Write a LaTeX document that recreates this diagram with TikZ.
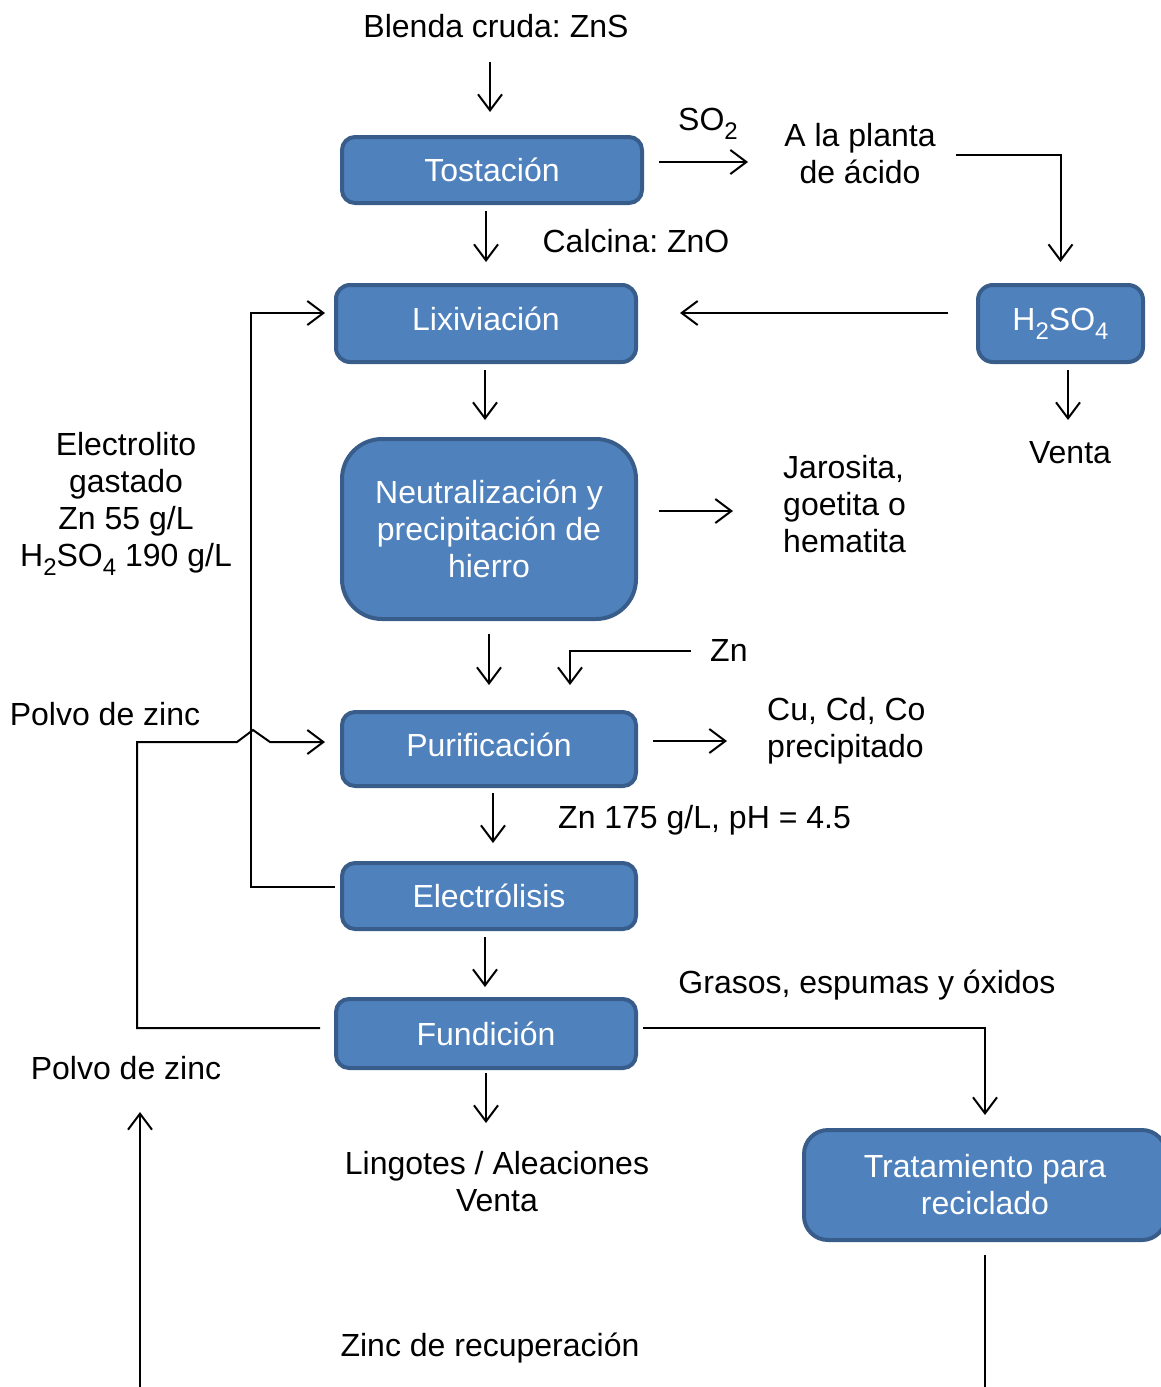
\documentclass[tikz,border=0pt]{standalone}
\usepackage{fontspec}
\setmainfont{Liberation Sans}
\usetikzlibrary{arrows.meta}
\definecolor{boxfill}{HTML}{4F81BD}
\definecolor{boxline}{HTML}{385D8A}
\newcommand{\sbs}[1]{\raisebox{-9pt}{\fontsize{24}{24}\selectfont #1}}
\frenchspacing
\begin{document}
\begin{tikzpicture}[x=1pt,y=-1pt, font=\fontsize{32}{37}\selectfont\frenchspacing,
 pbox/.style={draw=boxline, fill=boxfill, line width=4pt, text=white, align=center, inner sep=0pt, outer sep=0pt, rounded corners=13pt},
 lbl/.style={inner sep=0pt, align=center},
 arr/.style={line width=2pt, -{Straight Barb[length=16pt,width=24pt]}},
 conn/.style={line width=2pt}]
\useasboundingbox (0,0) rectangle (1161,1387);
\clip (0,0) rectangle (1161,1387);

% process boxes
\node[pbox, minimum width=300pt, minimum height=66pt] (tost) at (492,170) {Tostación};
\node[pbox, minimum width=300pt, minimum height=77pt, rounded corners=14pt] (lix) at (486,323.5) {\raisebox{10pt}{Lixiviación}};
\node[pbox, minimum width=165pt, minimum height=77pt, rounded corners=15pt] (hs) at (1060.5,323.5) {H\sbs{2}SO\sbs{4}};
\node[pbox, minimum width=294pt, minimum height=180pt, rounded corners=40pt] (neu) at (489,529) {Neutralización y\\precipitación de\\hierro};
\node[pbox, minimum width=294pt, minimum height=74pt] (pur) at (489,749) {\raisebox{8pt}{Purificación}};
\node[pbox, minimum width=294pt, minimum height=66pt] (ele) at (489,896) {Electrólisis};
\node[pbox, minimum width=300pt, minimum height=69pt] (fun) at (486,1033.5) {Fundición};
\node[pbox, minimum width=362pt, minimum height=110pt, rounded corners=24pt] (tra) at (985,1185) {Tratamiento para\\reciclado};

% labels
\node[lbl, anchor=base] (blenda) at (496,37) {Blenda cruda: ZnS};
\node[lbl, anchor=base] (so2) at (708,130) {SO\sbs{2}};
\node[lbl] (acid) at (860,153.4) {A la planta\\de ácido};
\node[lbl, anchor=base] (calc) at (636,252) {Calcina: ZnO};
\node[lbl, anchor=base] (venta1) at (1070,463) {Venta};
\node[lbl] (elec) at (126,503.5) {Electrolito\\gastado\\Zn 55 g/L\\H\sbs{2}SO\sbs{4} 190 g/L};
\node[lbl, align=left, anchor=west] (jar) at (783,504.4) {Jarosita,\\goetita o\\hematita};
\node[lbl, anchor=base west] (zn) at (710,661) {Zn};
\node[lbl, align=left, anchor=west] (cu) at (767,730.7) {Cu, Cd, Co\\precipitado};
\node[lbl, anchor=base west] (ph) at (558,828) {Zn 175 g/L, pH = 4.5};
\node[lbl, anchor=base] (polvo1) at (105,725) {Polvo de zinc};
\node[lbl, anchor=base] (gras) at (867,993) {Grasos, espumas y óxidos};
\node[lbl, anchor=base] (polvo2) at (126,1079) {Polvo de zinc};
\node[lbl] (ling) at (497,1181.4) {Lingotes / Aleaciones\\Venta};
\node[lbl, anchor=base] (zrec) at (490,1356) {Zinc de recuperación};

% free ends
\coordinate (blendaOut) at (490,62);
\coordinate (so2To) at (748,162);
\coordinate (acidOut) at (956,155);
\coordinate (ventaIn) at (1068,420);
\coordinate (jarIn) at (733,511);
\coordinate (znOut) at (691,651);
\coordinate (cuIn) at (727,741);
\coordinate (lingIn) at (486,1123);
\coordinate (botL) at (140,1387);
\coordinate (polvoIn) at (140,1112);
\coordinate (botR) at (985,1387);

% connectors
\draw[arr] (blendaOut) -- ([xshift=-2pt,yshift=25pt]tost.north);
\draw[arr] ([xshift=17pt,yshift=8pt]tost.east) -- (so2To);
\draw[arr] (acidOut) -| ([yshift=23pt]hs.north);
\draw[arr] ([xshift=-6pt,yshift=-8pt]tost.south) -- ([yshift=23pt]lix.north);
\draw[arr] ([xshift=-30pt,yshift=10.5pt]hs.west) -- ([xshift=44pt,yshift=10.5pt]lix.east);
\draw[arr] ([xshift=7.5pt,yshift=-8pt]hs.south) -- (ventaIn);
\draw[arr] ([xshift=-1pt,yshift=-8pt]lix.south) -- ([xshift=-4pt,yshift=19pt]neu.north);
\draw[arr] ([xshift=23pt,yshift=18pt]neu.east) -- (jarIn);
\draw[arr] ([yshift=-15pt]neu.south) -- ([yshift=27pt]pur.north);
\draw[arr] (znOut) -| ([xshift=81pt,yshift=27pt]pur.north);
\draw[arr] ([xshift=17pt,yshift=8pt]pur.east) -- (cuIn);
\draw[arr] ([xshift=4pt,yshift=-7pt]pur.south) -- ([xshift=4pt,yshift=20pt]ele.north);
\draw[arr] ([xshift=-4pt,yshift=-8pt]ele.south) -- ([xshift=-1pt,yshift=12pt]fun.north);
\draw[arr] ([yshift=-5pt]fun.south) -- (lingIn);
\draw[arr] ([xshift=7pt,yshift=5.5pt]fun.east) -| ([yshift=15pt]tra.north);
\draw[arr] ([xshift=-7pt,yshift=9pt]ele.west) -- ++(-84,0) |- ([xshift=-11pt,yshift=10.5pt]lix.west);
\draw[arr] ([xshift=-16pt,yshift=5.5pt]fun.west) -- ++(-183,0) -- ++(0,-286) -- ++(100,0) -- ++(16,-12) -- ++(17,12) -- ([xshift=-17pt,yshift=7pt]pur.west);
\draw[arr] (botL) -- (polvoIn);
\draw[conn] ([yshift=-15pt]tra.south) -- (botR);
\end{tikzpicture}
\end{document}
